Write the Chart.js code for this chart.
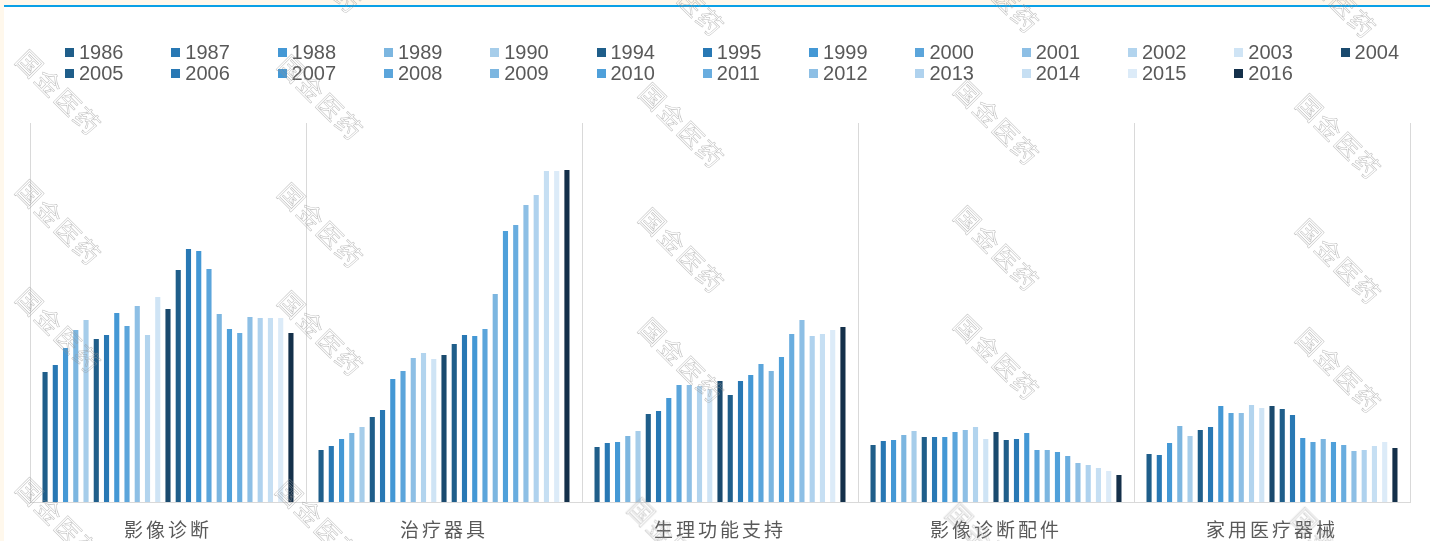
<!DOCTYPE html>
<html>
<head>
<meta charset="utf-8">
<script src="https://cdn.jsdelivr.net/npm/chart.js@4/dist/chart.umd.min.js"></script>
<style>
  html, body { margin: 0; padding: 0; background: #fff; }
  #wrap { position: relative; width: 1430px; height: 541px; overflow: hidden; background: #fff; }
  #topband { position: absolute; left: 0; top: 0; width: 1430px; height: 5px; background: #fff8ec; }
  #leftband { position: absolute; left: 0; top: 0; width: 4px; height: 541px; background: #fff8ec; }
  #blueline { position: absolute; left: 4px; top: 5px; width: 1426px; height: 2px; background: #0aa0e6; }
  #chartBar { position: absolute; left: 0; top: 0; }
  #legend { position: absolute; left: 0; top: 0; width: 1430px; height: 100px; }
  .lg-item { position: absolute; height: 22px; line-height: 22px; font: 20px "Liberation Sans", Arial, sans-serif; color: #595959; white-space: nowrap; }
  .lg-box { position: absolute; left: 0; top: 7px; width: 9px; height: 9px; }
  .lg-text { position: absolute; left: 14px; top: 0; }
  .wm { position: absolute; transform: translate(-50%, -50%) rotate(45deg); font: 25px "Noto Sans CJK SC", sans-serif;
        letter-spacing: 2px; color: transparent; -webkit-text-stroke: 0.5px rgba(150,150,150,0.65); white-space: nowrap; pointer-events: none; }
</style>
</head>
<body>
<div id="wrap">
  <div id="topband"></div>
  <div id="leftband"></div>
  <div id="blueline"></div>
  <canvas id="chartBar" width="1430" height="541"></canvas>
  <div id="legend"></div>
  <div id="marks"></div>
</div>
<script>
// categories and years
const categories = ["影像诊断", "治疗器具", "生理功能支持", "影像诊断配件", "家用医疗器械"];
const years = ["1986", "1987", "1988", "1989", "1990", "1994", "1995", "1999", "2000", "2001", "2002", "2003", "2004",
               "2005", "2006", "2007", "2008", "2009", "2010", "2011", "2012", "2013", "2014", "2015", "2016"];

// values per category, one per year
const imaging     = [13.0, 13.7, 15.4, 17.2, 18.2, 16.3, 16.7, 18.9, 17.6, 19.6, 16.7, 20.5, 19.3, 23.2, 25.3, 25.1, 23.3, 18.8, 17.3, 16.9, 18.5, 18.4, 18.4, 18.4, 16.9];
const therapy     = [5.2, 5.6, 6.3, 6.9, 7.5, 8.5, 9.2, 12.3, 13.1, 14.4, 14.9, 14.3, 14.7, 15.8, 16.7, 16.6, 17.3, 20.8, 27.1, 27.7, 29.7, 30.7, 33.1, 33.1, 33.2];
const lifeSupport = [5.5, 5.9, 6.0, 6.6, 7.1, 8.8, 9.1, 10.4, 11.7, 11.7, 11.6, 11.3, 12.1, 10.7, 12.1, 12.7, 13.8, 13.1, 14.5, 16.8, 18.2, 16.6, 16.8, 17.2, 17.5];
const accessories = [5.7, 6.1, 6.2, 6.7, 7.1, 6.5, 6.5, 6.5, 7.0, 7.2, 7.5, 6.3, 7.0, 6.2, 6.3, 6.9, 5.2, 5.2, 5.0, 4.6, 3.9, 3.7, 3.4, 3.1, 2.7];
const homeCare    = [4.8, 4.7, 5.9, 7.6, 6.6, 7.2, 7.5, 9.6, 8.9, 8.9, 9.7, 9.4, 9.6, 9.3, 8.7, 6.4, 6.0, 6.3, 6.0, 5.7, 5.1, 5.2, 5.6, 6.0, 5.4];

const colors = ["#1f5e8a", "#2878b4", "#4498d5", "#7cb6e0", "#a6cdea", "#1f5e8a", "#2878b4", "#4498d5", "#5ba5db", "#8dbfe5",
                "#b2d4ee", "#cfe4f5", "#1a4a6e", "#1f5e8a", "#2878b4", "#4498d5", "#5ba5db", "#7cb6e0", "#4fa0da", "#69addf",
                "#8dbfe5", "#afd2ee", "#c6dff3", "#dcebf8", "#14304a"];

const byCategory = [imaging, therapy, lifeSupport, accessories, homeCare];

const datasets = years.map((y, i) => ({
  label: y,
  data: byCategory.map(arr => arr[i]),
  backgroundColor: colors[i],
  borderWidth: 0,
  categoryPercentage: 0.928,
  barPercentage: 0.5
}));

// letter spacing for the category labels
const spacingPlugin = {
  id: 'spacing',
  beforeDraw(chart) { chart.ctx.letterSpacing = '3px'; }
};

const chartBar = new Chart(document.getElementById("chartBar"), {
  type: "bar",
  data: { labels: categories, datasets: datasets },
  plugins: [spacingPlugin],
  options: {
    responsive: false,
    animation: false,
    devicePixelRatio: 1,
    layout: { padding: { top: 123, left: 30, right: 20, bottom: 0 } },
    plugins: { legend: { display: false }, tooltip: { enabled: false } },
    scales: {
      x: {
        afterFit(scale) { scale.height = 39; },
        grid: { color: "#d9d9d9", offset: true, drawTicks: false, lineWidth: 1 },
        border: { color: "#d9d9d9", width: 1 },
        ticks: { color: "#595959", padding: 16, font: { family: "'Noto Sans CJK SC', sans-serif", size: 19 } }
      },
      y: { display: false, min: 0, max: 37.9 }
    }
  }
});

// html legend, two rows
const legend = document.getElementById("legend");
years.forEach((y, i) => {
  const row = i < 13 ? 0 : 1;
  const col = i < 13 ? i : i - 13;
  const item = document.createElement("div");
  item.className = "lg-item";
  item.style.left = (65 + col * 106.3) + "px";
  item.style.top = (row === 0 ? 40.5 : 62) + "px";
  item.innerHTML = '<span class="lg-box" style="background:' + colors[i] + '"></span><span class="lg-text">' + y + '</span>';
  legend.appendChild(item);
});

// watermark
const marks = [[60, 92], [60, 222], [60, 330], [60, 520],
               [320, -30], [322, 97], [322, 225], [322, 333], [320, 522],
               [683, -7], [683, 125], [683, 250], [683, 360], [672, 540],
               [998, -10], [998, 122], [998, 248], [998, 357], [990, 545],
               [1335, -5], [1340, 136], [1340, 261], [1340, 370], [1335, 550]];
const marksEl = document.getElementById("marks");
marks.forEach(m => {
  const d = document.createElement("div");
  d.className = "wm";
  d.style.left = m[0] + "px";
  d.style.top = m[1] + "px";
  d.textContent = "国金医药";
  marksEl.appendChild(d);
});
</script>
</body>
</html>
